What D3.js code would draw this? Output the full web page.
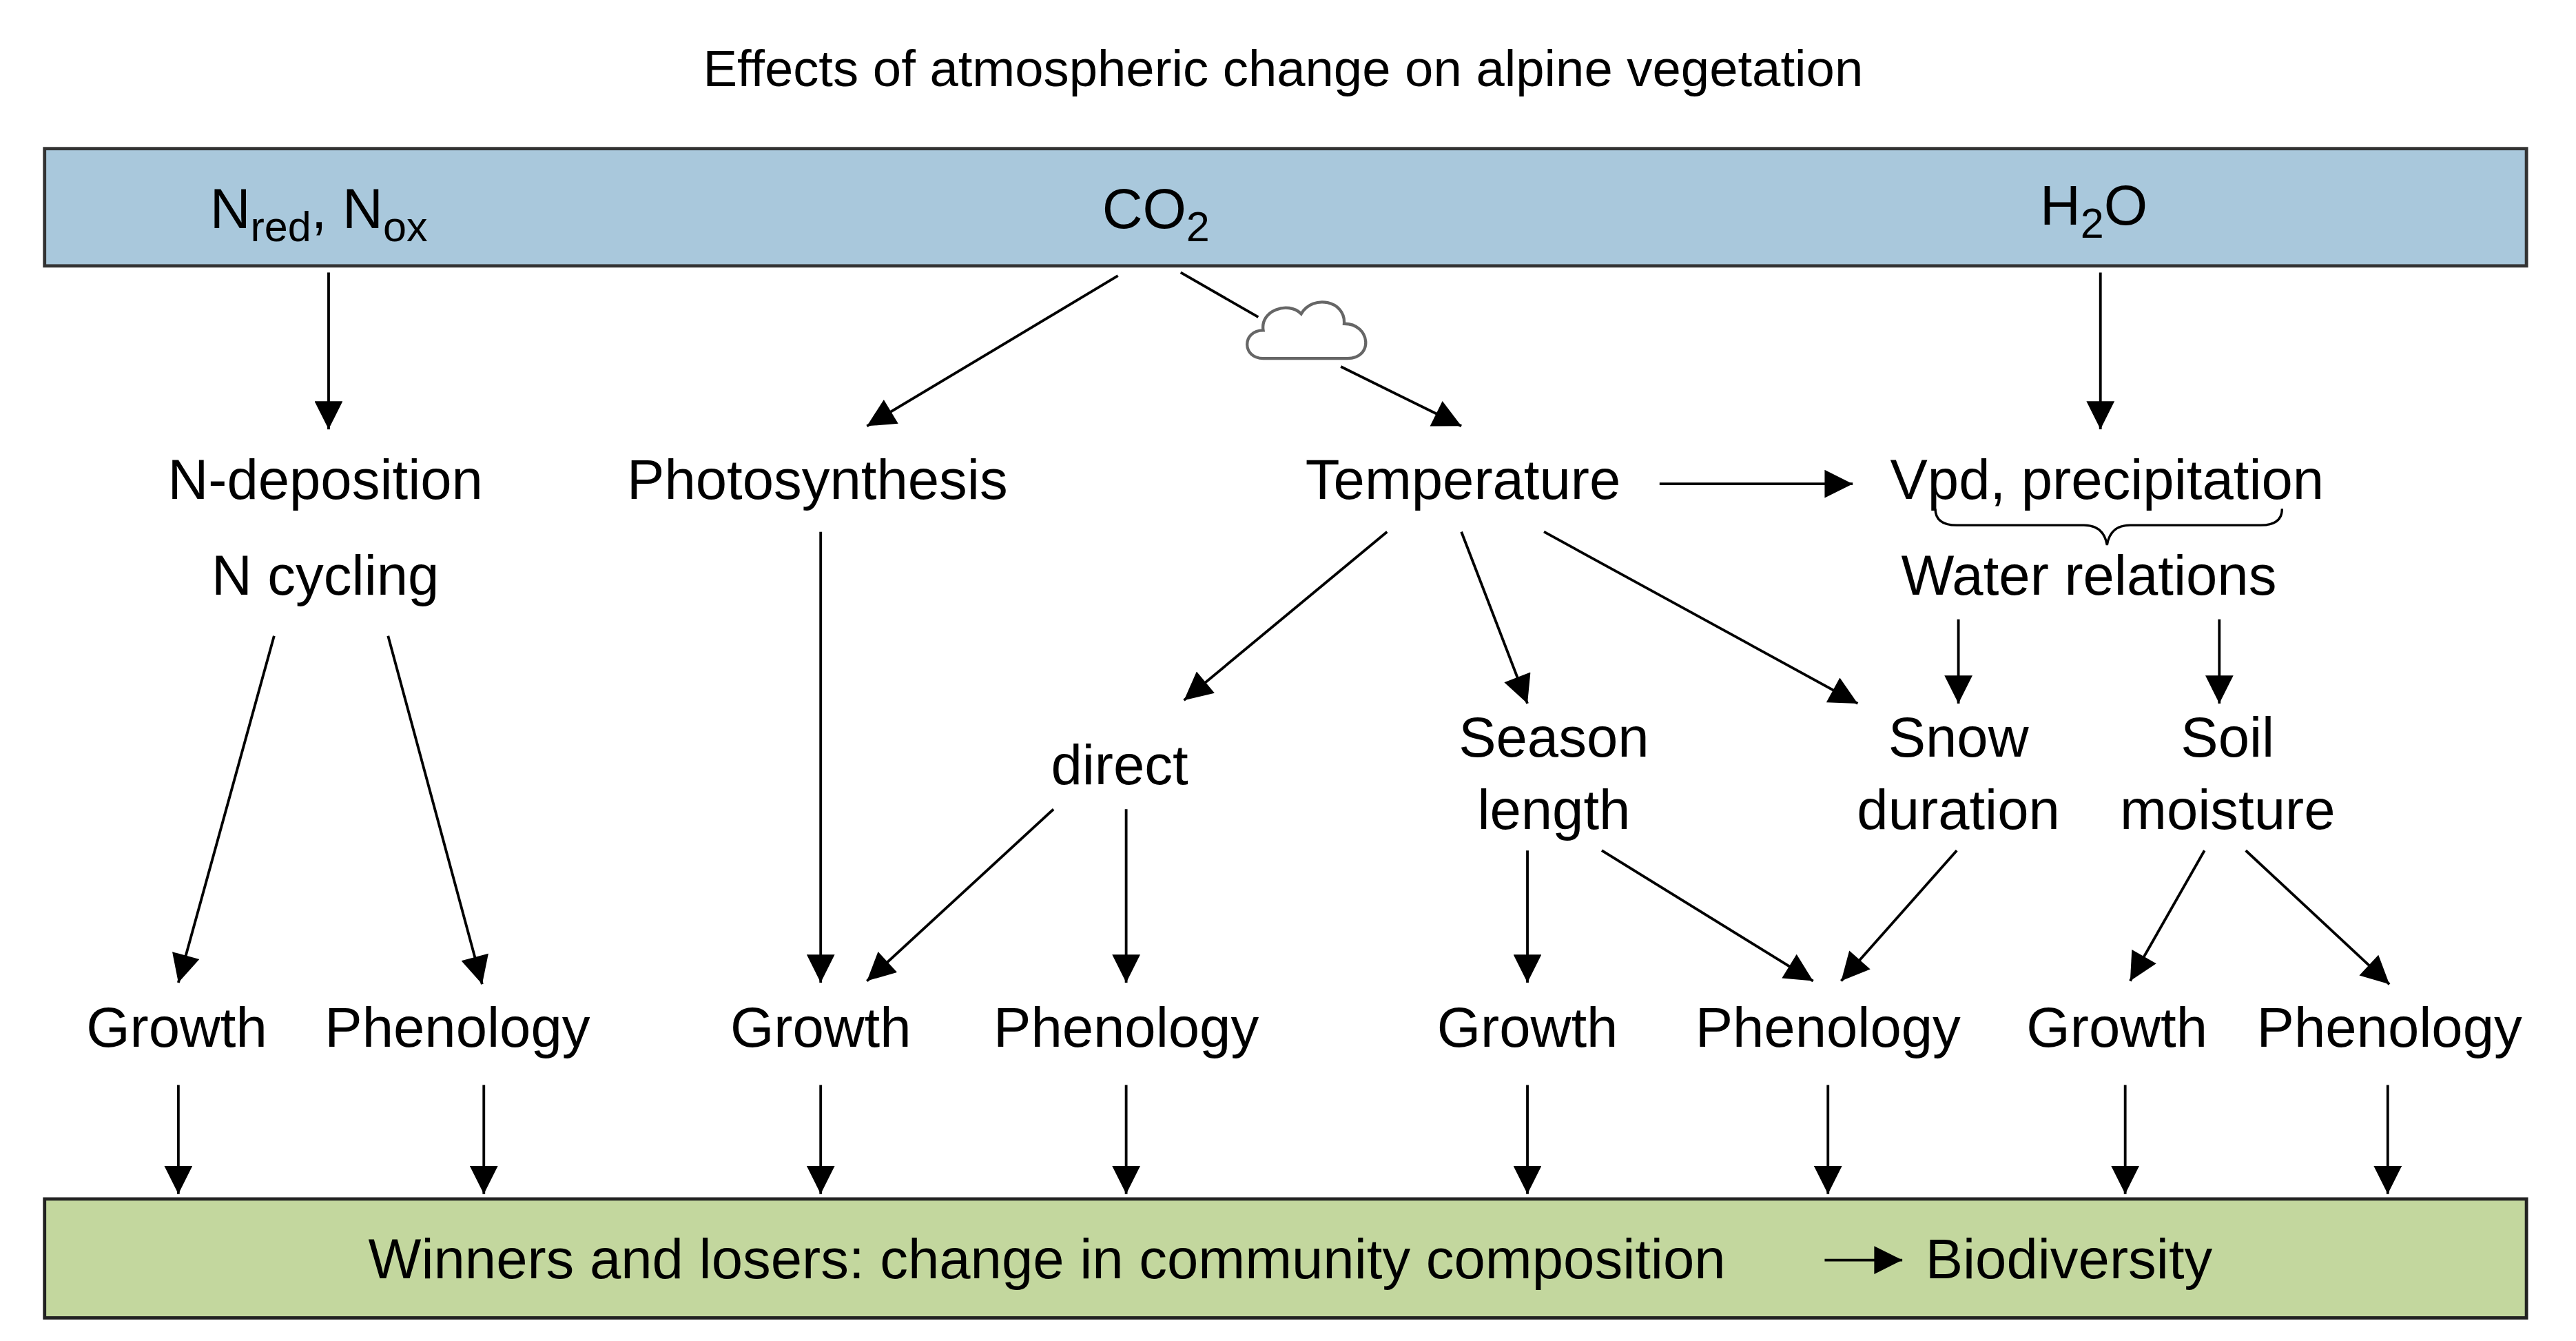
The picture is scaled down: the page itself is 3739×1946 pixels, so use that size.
<!DOCTYPE html>
<html><head><meta charset="utf-8">
<script src="https://cdn.jsdelivr.net/npm/d3@7"></script>
<style>body{margin:0;background:#fff}text{font-family:"Liberation Sans",Arial,sans-serif;fill:#000}</style>
</head><body><svg id="chart"></svg>
<script>
// node labels (one entry per line) and their anchor points
const nodeLabels = [
  ["N-deposition"], ["N cycling"], ["Photosynthesis"], ["Temperature"],
  ["Vpd, precipitation"], ["Water relations"], ["direct"],
  ["Season","length"], ["Snow","duration"], ["Soil","moisture"],
  ["Growth"],["Phenology"],["Growth"],["Phenology"],["Growth"],["Phenology"],["Growth"],["Phenology"]
];
const nodePos = [
  [197,302],[197,360],[495,302],[886,302],[1276,302],[1265,360],[678,475],
  [941,458],[1186,458],[1349,458],
  [107,634],[277,634],[497,634],[682,634],[925,634],[1107,634],[1282,634],[1447,634]
];
// arrows: from -> to
const arrows = [
  [199,165,199,260],[677,167,525,258],[812,222,885,258],[1272,165,1272,260],
  [1005,293,1122,293],[840,322,717,424],[885,322,925,426],[935,322,1125,426],
  [1186,375,1186,426],[1344,375,1344,426],
  [497,322,497,595],[166,385,108,595],[235,385,292,596],
  [638,490,525,594],[682,490,682,595],[925,515,925,595],[970,515,1098,594],
  [1185,515,1115,594],[1335,515,1290,594],[1360,515,1447,596]
];
const bottomArrowX = [108,293,497,682,925,1107,1287,1446];

const W=3739,H=1946;
const x=d3.scaleLinear().domain([0,1560]).range([0,W]);
const y=d3.scaleLinear().domain([0,812]).range([0,H]);
const k=W/1560;
const svg=d3.select("#chart").attr("width",W).attr("height",H);
svg.append("defs").append("marker").attr("id","ah").attr("viewBox","0 0 10 10")
  .attr("refX",10).attr("refY",5).attr("markerWidth",20*k/2).attr("markerHeight",16*k/2)
  .attr("markerUnits","userSpaceOnUse").attr("orient","auto")
  .append("path").attr("d","M0,0L10,5L0,10Z").attr("fill","#000");
svg.select("marker").attr("markerWidth",21*k).attr("markerHeight",17*k);

const fs=34*k;
svg.append("text").attr("x",x(777)).attr("y",y(52)).attr("text-anchor","middle")
  .attr("font-size",31*k).text("Effects of atmospheric change on alpine vegetation");

// boxes
svg.append("rect").attr("x",x(27)).attr("y",y(90)).attr("width",x(1503)).attr("height",y(71))
  .attr("fill","#a9c8dc").attr("stroke","#333").attr("stroke-width",2*k);
svg.append("rect").attr("x",x(27)).attr("y",y(726)).attr("width",x(1503)).attr("height",y(72))
  .attr("fill","#c3d79e").attr("stroke","#222").attr("stroke-width",2*k);

function sub(t,parts,cx,cy){
  const el=svg.append("text").attr("x",x(cx)).attr("y",y(cy)).attr("text-anchor","middle").attr("font-size",fs);
  parts.forEach(p=>{
    if(p[1]) el.append("tspan").attr("font-size",fs*0.75).attr("dy",8*k).text(p[0]);
    else el.append("tspan").attr("dy",p[2]?-8*k:0).text(p[0]);
  });
}
sub(svg,[["N"],["red",1],[", N",0,1],["ox",1]],193,138);
sub(svg,[["CO"],["2",1]],700,138);
sub(svg,[["H"],["2",1],["O",0,1]],1268,136);

svg.append("text").attr("x",x(634)).attr("y",y(774)).attr("text-anchor","middle").attr("font-size",fs)
  .text("Winners and losers: change in community composition");
svg.append("text").attr("x",x(1166)).attr("y",y(774)).attr("font-size",fs).text("Biodiversity");

svg.selectAll("text.node").data(nodeLabels).enter().append("text").attr("class","node")
  .attr("text-anchor","middle").attr("font-size",fs)
  .each(function(d,i){
    d.forEach((line,j)=>d3.select(this).append("tspan").attr("x",x(nodePos[i][0]))
      .attr("y",y(nodePos[i][1]+j*44)).text(line));
  });

const allArrows=arrows.concat(bottomArrowX.map(v=>[v,657,v,723]),[[1105,763,1152,763]]);
svg.selectAll("line.ar").data(allArrows).enter().append("line").attr("class","ar")
  .attr("x1",d=>x(d[0])).attr("y1",d=>y(d[1])).attr("x2",d=>x(d[2])).attr("y2",d=>y(d[3]))
  .attr("stroke","#000").attr("stroke-width",1.6*k).attr("marker-end","url(#ah)");
// CO2 -> cloud segment
svg.append("line").attr("x1",x(715)).attr("y1",y(165)).attr("x2",x(762)).attr("y2",y(192))
  .attr("stroke","#000").attr("stroke-width",1.6*k);

// cloud
const cloud="M765,217 C752,217 752,200 765,200 C763,188 780,182 788,190 C795,178 815,182 814,196 C830,196 832,217 816,217 Z";
svg.append("path").attr("d",cloud).attr("transform",`scale(${k})`)
  .attr("fill","#fff").attr("stroke","#666").attr("stroke-width",1.8);

// brace under Vpd, precipitation
const brace="M1172,308 Q1172,318 1185,318 L1262,318 Q1274,318 1276,330 Q1278,318 1290,318 L1369,318 Q1382,318 1382,308";
svg.append("path").attr("d",brace).attr("transform",`scale(${k})`)
  .attr("fill","none").attr("stroke","#000").attr("stroke-width",1.4);
</script></body></html>
